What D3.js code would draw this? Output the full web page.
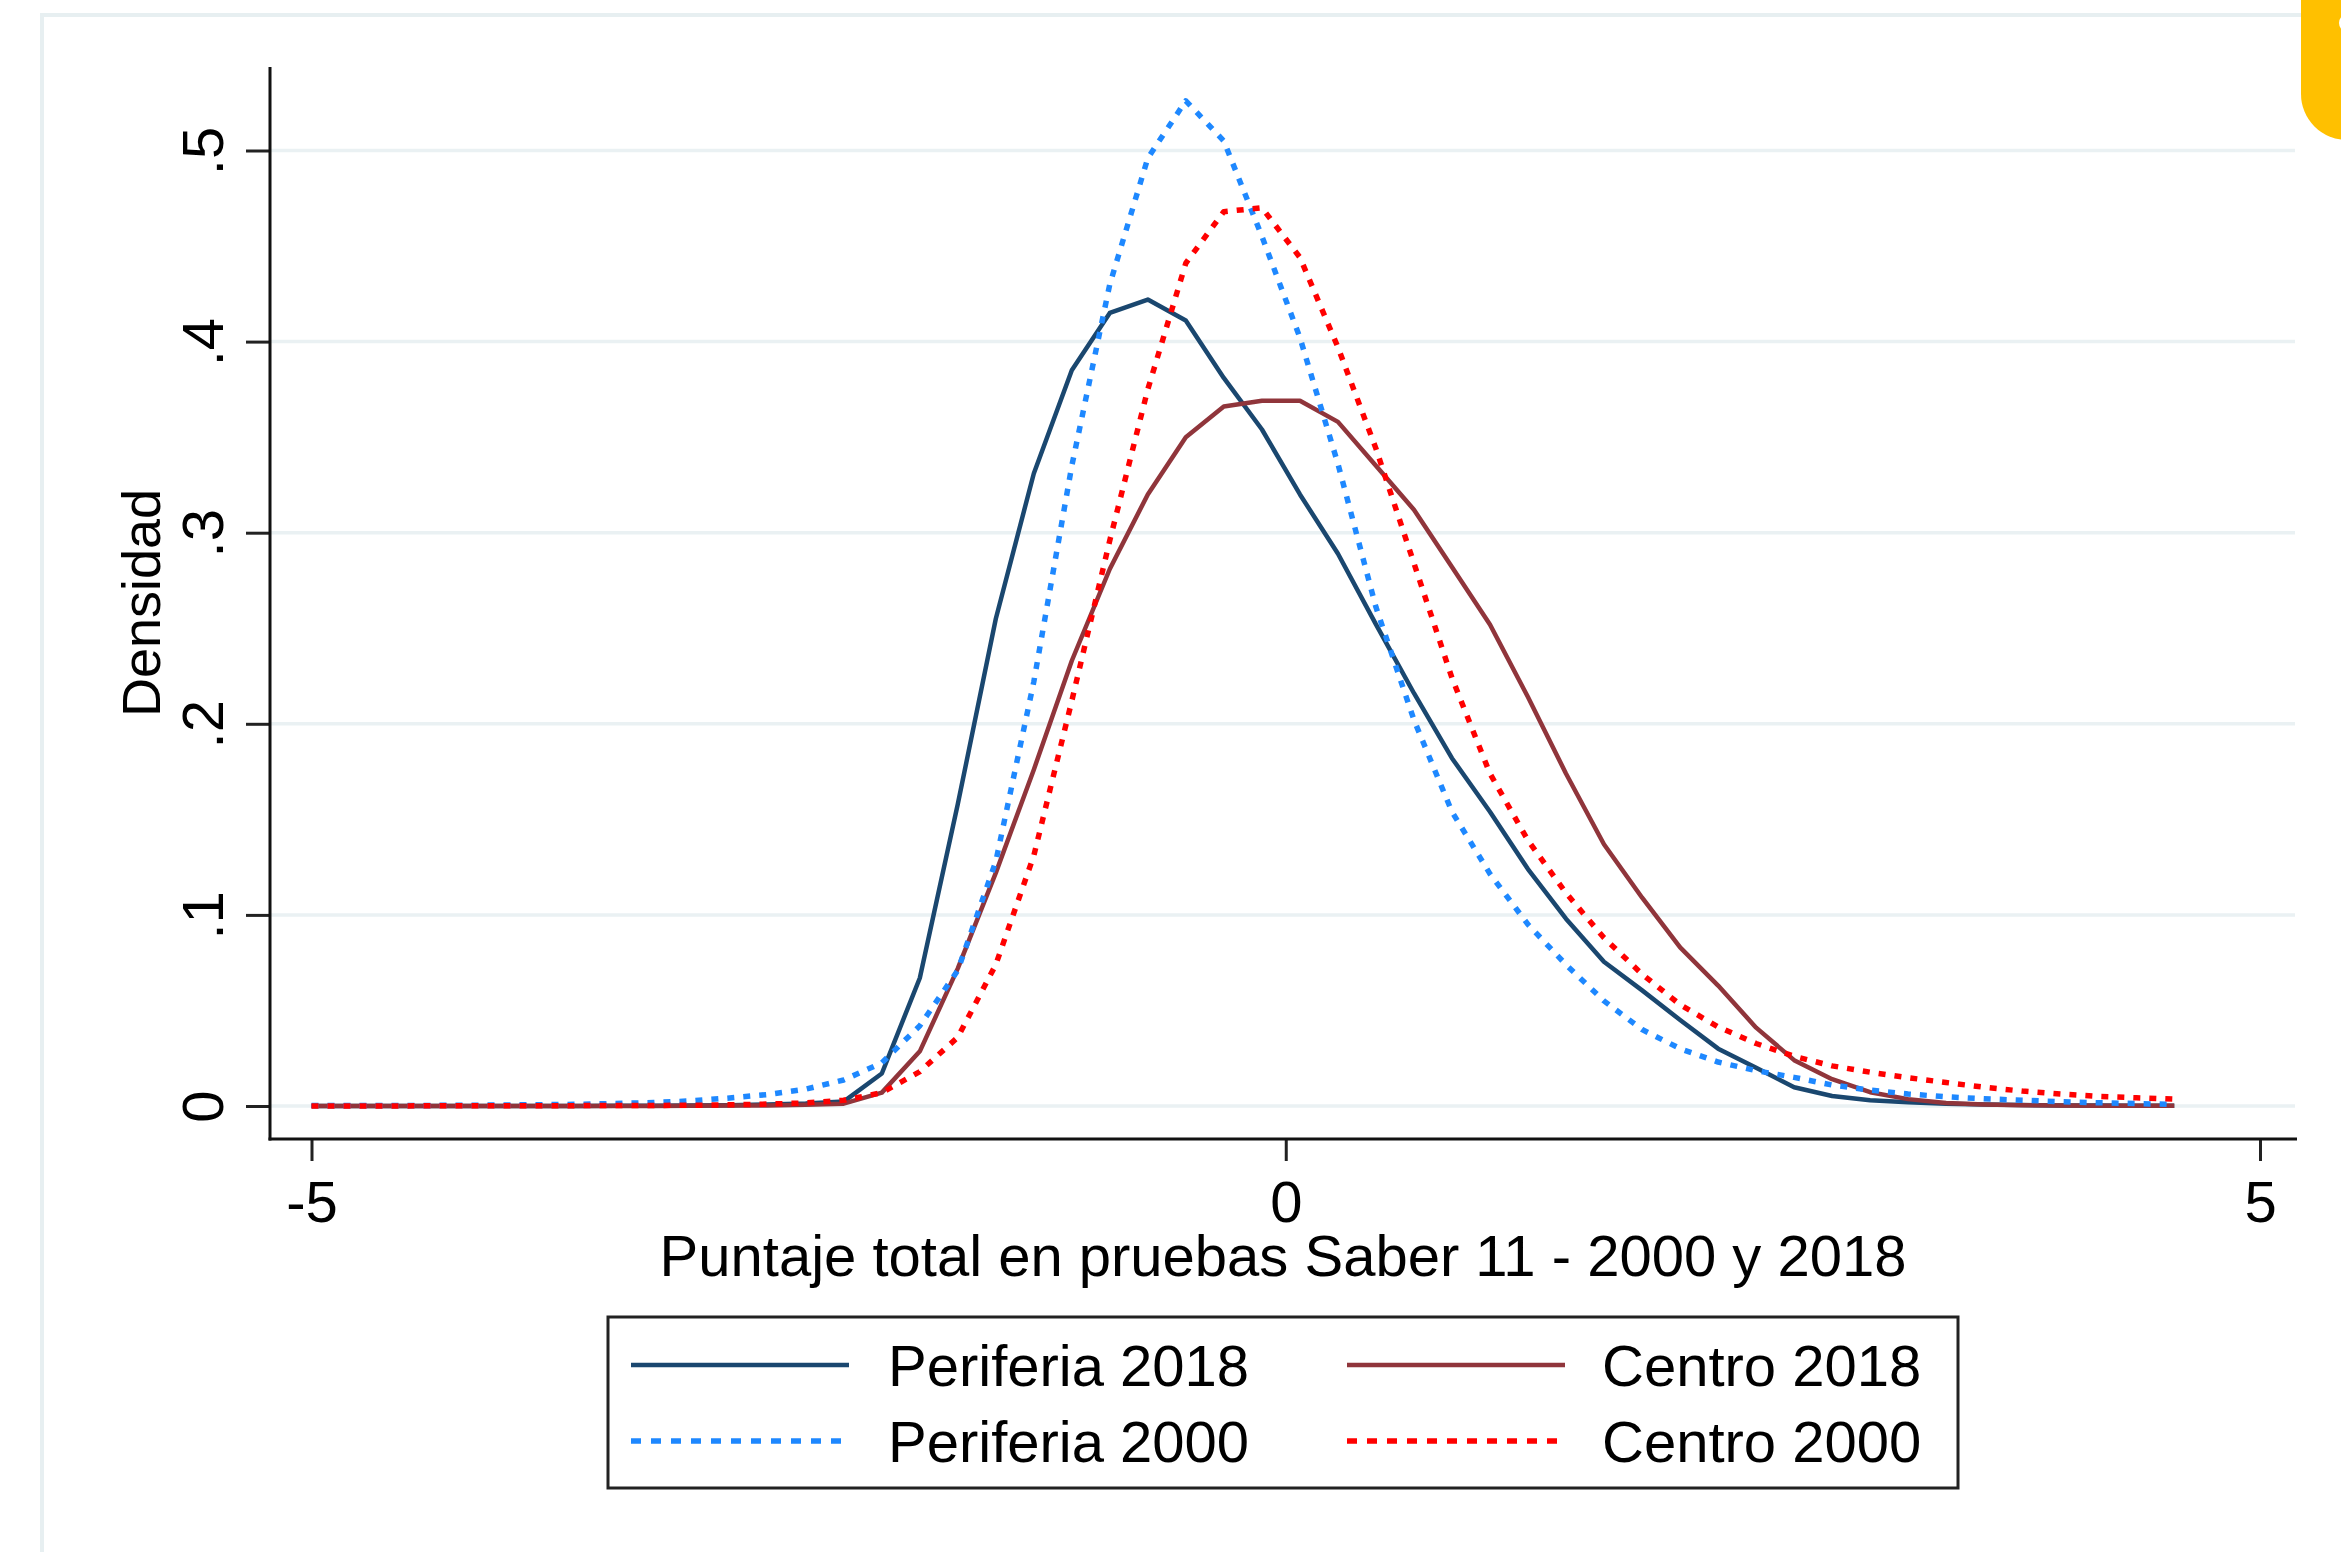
<!DOCTYPE html>
<html>
<head>
<meta charset="utf-8">
<script src="https://cdn.jsdelivr.net/npm/d3@7"></script>
<style>
    body { margin: 0; background: #fff; }
    text { font-family: "Liberation Sans", Arial, sans-serif; fill: #000; }
</style>
</head>
<body>
<div id="container"></div>
<script>
// puntos de evaluacion del kdensity (50 puntos)
var xGrid = [-5.000, -4.805, -4.610, -4.415, -4.220, -4.024, -3.829, -3.634, -3.439, -3.244,
    -3.049, -2.854, -2.659, -2.464, -2.269, -2.073, -1.878, -1.683, -1.488, -1.293,
    -1.098, -0.903, -0.708, -0.513, -0.318, -0.122, 0.073, 0.268, 0.463, 0.658,
    0.853, 1.048, 1.243, 1.438, 1.633, 1.829, 2.024, 2.219, 2.414, 2.609,
    2.804, 2.999, 3.194, 3.389, 3.584, 3.780, 3.975, 4.170, 4.365, 4.560];

var periferia2018 = [0, 0, 0, 0, 0, 0, 0, 0, 0.0001, 0.0001,
    0.0002, 0.0004, 0.0008, 0.0013, 0.0023, 0.017, 0.067, 0.158, 0.255, 0.331,
    0.385, 0.415, 0.422, 0.411, 0.381, 0.354, 0.320, 0.289, 0.252, 0.216,
    0.182, 0.154, 0.124, 0.098, 0.0755, 0.0605, 0.045, 0.030, 0.020, 0.0098,
    0.0052, 0.003, 0.002, 0.0012, 0.0008, 0.0005, 0.0003, 0.0002, 0.0001, 0.0001];

var centro2018 = [0, 0, 0, 0, 0, 0, 0, 0, 0, 0,
    0.0001, 0.0002, 0.0003, 0.0006, 0.0012, 0.0070, 0.0286, 0.072, 0.122, 0.176,
    0.233, 0.281, 0.320, 0.350, 0.366, 0.369, 0.369, 0.358, 0.335, 0.312,
    0.282, 0.252, 0.214, 0.174, 0.137, 0.109, 0.083, 0.063, 0.041, 0.024,
    0.014, 0.0072, 0.0036, 0.0016, 0.0008, 0.0004, 0.0002, 0.0001, 0.0001, 0.0001];

var periferia2000 = [0.0002, 0.0002, 0.0003, 0.0003, 0.0004, 0.0005, 0.0007, 0.0009, 0.0013, 0.0018,
    0.0027, 0.0042, 0.0060, 0.0088, 0.0136, 0.0226, 0.042, 0.071, 0.128, 0.222,
    0.335, 0.430, 0.496, 0.526, 0.505, 0.455, 0.402, 0.336, 0.261, 0.202,
    0.154, 0.1215, 0.095, 0.074, 0.055, 0.040, 0.030, 0.023, 0.0185, 0.015,
    0.011, 0.0083, 0.0063, 0.0048, 0.0038, 0.003, 0.0023, 0.0017, 0.0013, 0.0008];

var centro2000 = [0, 0, 0, 0.0001, 0.0001, 0.0001, 0.0001, 0.0002, 0.0002, 0.0003,
    0.0004, 0.0006, 0.0010, 0.0016, 0.0030, 0.0070, 0.018, 0.036, 0.074, 0.131,
    0.212, 0.296, 0.375, 0.441, 0.468, 0.470, 0.444, 0.397, 0.344, 0.284,
    0.224, 0.174, 0.139, 0.1115, 0.088, 0.069, 0.053, 0.0414, 0.0327, 0.026,
    0.021, 0.0177, 0.0148, 0.0123, 0.0098, 0.0078, 0.0063, 0.005, 0.0043, 0.0036];

var seriesNames = ['Periferia 2018', 'Centro 2018', 'Periferia 2000', 'Centro 2000'];
var xTicks = [-5, 0, 5];
var xTickLabels = ['-5', '0', '5'];
var yTicks = [0, 0.1, 0.2, 0.3, 0.4, 0.5];
var yTickLabels = ['0', '.1', '.2', '.3', '.4', '.5'];

var width = 2341,
    height = 1552;

var svg = d3.select("#container").append("svg")
    .attr("width", width)
    .attr("height", height);

svg.append("rect").attr("width", width).attr("height", height).attr("fill", "#fff");

// marco exterior claro del grafico
svg.append("path")
    .attr("d", "M42," + height + " L42,15 L2302,15")
    .attr("fill", "none")
    .attr("stroke", "#e7eff1")
    .attr("stroke-width", 4);

// mancha naranja en la esquina (recorte de la captura)
svg.append("rect")
    .attr("x", 2301).attr("y", -60)
    .attr("width", 120).attr("height", 200)
    .attr("rx", 46)
    .attr("fill", "#ffc000");
svg.append("circle").attr("cx", 2348).attr("cy", 23).attr("r", 9).attr("fill", "#fff");

var x = d3.scaleLinear().domain([-5, 5]).range([311.5, 2260]);
var y = d3.scaleLinear().domain([0, 0.5]).range([1106, 150.5]);

var plotLeft = 270, plotRight = 2297, plotTop = 67, plotBottom = 1139;

// lineas de cuadricula
svg.append("g").selectAll("line").data(yTicks).enter().append("line")
    .attr("x1", plotLeft).attr("x2", plotRight - 2)
    .attr("y1", function (d) { return y(d); })
    .attr("y2", function (d) { return y(d); })
    .attr("stroke", "#eaf1f3")
    .attr("stroke-width", 3.5);

var styles = [
    { data: periferia2018, color: '#1a476f', dash: null, w: 4.5 },
    { data: centro2018, color: '#90353b', dash: null, w: 4.5 },
    { data: periferia2000, color: '#1e88ff', dash: '7,9', w: 5.5 },
    { data: centro2000, color: '#ff0000', dash: '7,9', w: 5.5 }
];

var line = d3.line()
    .x(function (d, i) { return x(xGrid[i]); })
    .y(function (d) { return y(d); });

svg.append("g").selectAll("path").data(styles).enter().append("path")
    .attr("d", function (d) { return line(d.data); })
    .attr("fill", "none")
    .attr("stroke", function (d) { return d.color; })
    .attr("stroke-width", function (d) { return d.w; })
    .attr("stroke-dasharray", function (d) { return d.dash; })
    .attr("stroke-linejoin", "round");

// eje y
var yAxis = d3.axisLeft(y)
    .tickValues(yTicks)
    .tickSize(24)
    .tickFormat(function (d, i) { return yTickLabels[i]; });

var gy = svg.append("g").attr("transform", "translate(" + plotLeft + ",0)").call(yAxis);
gy.select(".domain").remove();
gy.append("line")
    .attr("x1", 0).attr("x2", 0)
    .attr("y1", plotTop).attr("y2", plotBottom + 1.5)
    .attr("stroke", "#111").attr("stroke-width", 3);
gy.selectAll(".tick line").attr("stroke", "#222").attr("stroke-width", 3);
gy.selectAll(".tick text")
    .attr("x", null).attr("dy", null)
    .attr("transform", "translate(-47,0) rotate(-90)")
    .attr("text-anchor", "middle")
    .style("font-size", "58px")
    .style("font-family", "Liberation Sans, Arial, sans-serif")
    .attr("fill", "#000");

// eje x
var xAxis = d3.axisBottom(x)
    .tickValues(xTicks)
    .tickSize(22)
    .tickFormat(function (d, i) { return xTickLabels[i]; });

var gx = svg.append("g").attr("transform", "translate(0," + plotBottom + ")").call(xAxis);
gx.select(".domain").remove();
gx.append("line")
    .attr("x1", plotLeft - 1.5).attr("x2", plotRight)
    .attr("y1", 0).attr("y2", 0)
    .attr("stroke", "#111").attr("stroke-width", 3);
gx.selectAll(".tick line").attr("stroke", "#222").attr("stroke-width", 3);
gx.selectAll(".tick text")
    .attr("y", 83).attr("dy", null)
    .style("font-size", "58px")
    .style("font-family", "Liberation Sans, Arial, sans-serif")
    .attr("fill", "#000");

// titulos de los ejes
svg.append("text")
    .attr("x", 1283).attr("y", 1276)
    .attr("text-anchor", "middle")
    .style("font-size", "58px")
    .text("Puntaje total en pruebas Saber 11 - 2000 y 2018");

svg.append("text")
    .attr("transform", "translate(160,603) rotate(-90)")
    .attr("text-anchor", "middle")
    .style("font-size", "54px")
    .text("Densidad");

// leyenda
var legend = svg.append("g");
legend.append("rect")
    .attr("x", 608).attr("y", 1317)
    .attr("width", 1350).attr("height", 171)
    .attr("fill", "#fff")
    .attr("stroke", "#222")
    .attr("stroke-width", 3);

var legendPos = [
    { kx: 631, tx: 888, ly: 1365 },
    { kx: 1347, tx: 1602, ly: 1365 },
    { kx: 631, tx: 888, ly: 1441 },
    { kx: 1347, tx: 1602, ly: 1441 }
];

var items = legend.selectAll(".item").data(styles).enter().append("g").attr("class", "item");
items.append("line")
    .attr("x1", function (d, i) { return legendPos[i].kx; })
    .attr("x2", function (d, i) { return legendPos[i].kx + 218; })
    .attr("y1", function (d, i) { return legendPos[i].ly; })
    .attr("y2", function (d, i) { return legendPos[i].ly; })
    .attr("stroke", function (d) { return d.color; })
    .attr("stroke-width", function (d) { return d.w; })
    .attr("stroke-dasharray", function (d) { return d.dash ? '10,10' : null; });
items.append("text")
    .attr("x", function (d, i) { return legendPos[i].tx; })
    .attr("y", function (d, i) { return legendPos[i].ly + 21; })
    .style("font-size", "58px")
    .text(function (d, i) { return seriesNames[i]; });
</script>
</body>
</html>
